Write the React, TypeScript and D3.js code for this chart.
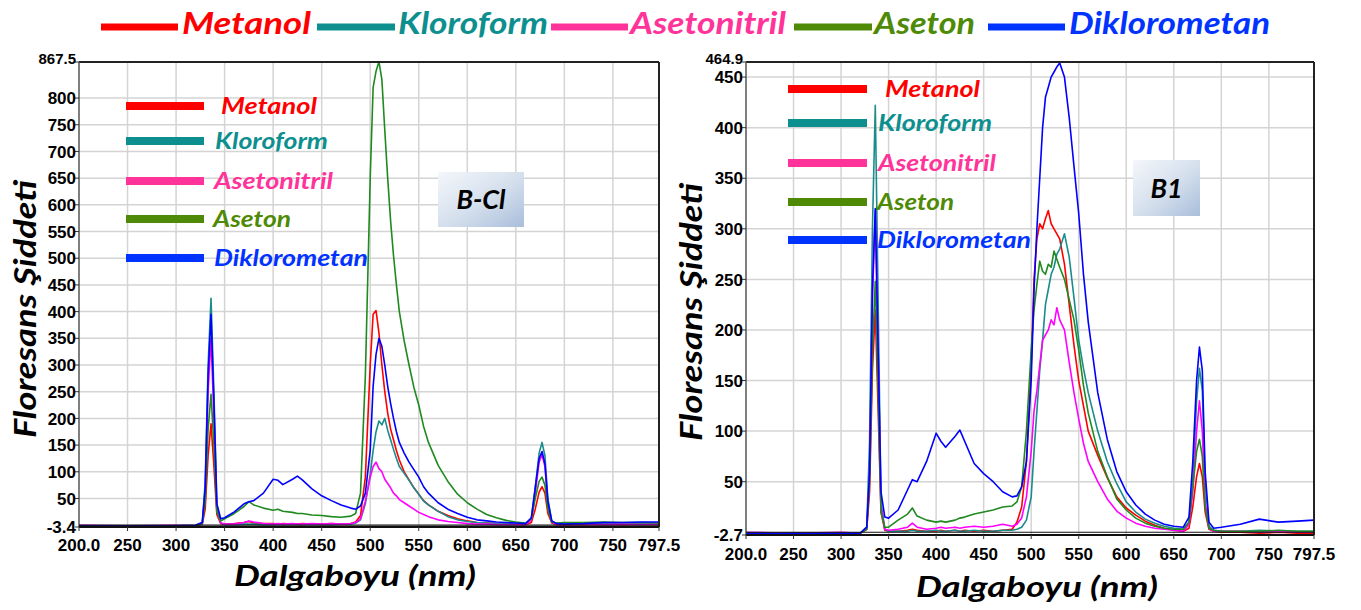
import React from 'react';
import * as d3 from 'd3';

// ---------- DATA ----------
// wavelength grid (nm), rows: A(200-320) B(327-350) C(360-480) D(485-530) E(535-660) F(666-692) G(700-797.5)
const WAVELENGTH = [
  200, 250, 300, 320,
  327, 330, 333, 336, 339, 342, 346, 350,
  360, 370, 375, 380, 390, 400, 405, 410, 420, 425, 430, 440, 450, 460, 470, 480,
  485, 490, 495, 500, 503, 506, 509, 512, 515, 518, 521, 524, 527, 530,
  535, 540, 545, 550, 555, 560, 570, 580, 590, 600, 610, 620, 630, 640, 650, 660,
  666, 670, 674, 677, 680, 683, 687, 692,
  700, 720, 740, 760, 780, 797.5,
];

// B-Cl panel
const BCL_METANOL = [
  -1, -1, -1, -1,
  2, 30, 130, 190, 110, 20, 3, 2,
  3, 5, 7, 4, 3, 3, 2, 3, 2, 2, 3, 2, 2, 3, 2, 3,
  6, 18, 90, 300, 395, 402, 360, 300, 250, 210, 180, 160, 140, 122,
  100, 85, 70, 58, 46, 38, 26, 18, 12, 8, 5, 4, 3, 2, 2, 1,
  5, 30, 62, 72, 60, 22, 4, 1,
  1, 1, 2, 1, 2, 1,
];
const BCL_KLOROFORM = [
  -1, -1, -1, 0,
  5, 80, 300, 425, 250, 40, 4, 1,
  1, 2, 2, 2, 1, 1, 2, 1, 2, 1, 1, 2, 1, 1, 2, 2,
  4, 10, 40, 95, 140, 175, 195, 188, 200, 178, 160, 142, 125, 110,
  97, 84, 70, 58, 45, 38, 26, 16, 10, 7, 5, 4, 3, 3, 2, 2,
  12, 70, 135, 155, 130, 50, 8, 2,
  2, 2, 3, 2, 3, 2,
];
const BCL_ASETONITRIL = [
  0, -1, 0, -1,
  3, 60, 250, 350, 200, 30, 4, 2,
  2, 5, 8, 6, 3, 2, 3, 2, 3, 2, 2, 3, 2, 3, 2, 3,
  5, 12, 45, 90, 110, 118, 106, 100, 86, 78, 70, 60, 55, 48,
  42, 36, 30, 24, 20, 16, 10, 7, 5, 3, 2, 2, 1, 1, 1, 1,
  10, 60, 118, 132, 110, 40, 6, 1,
  1, 2, 1, 2, 1, 2,
];
const BCL_ASETON = [
  -1, -1, -1, -1,
  3, 45, 180, 245, 150, 25, 8, 12,
  22, 35, 44, 38, 32, 28, 30, 26, 24, 22, 22, 19, 18, 16, 15, 17,
  22, 60, 280, 650, 820, 850, 868, 835, 740, 650, 570, 505, 450, 400,
  345, 300, 258, 225, 185, 155, 112, 82, 58, 42, 30, 20, 14, 9, 6, 4,
  12, 50, 82, 90, 75, 30, 6, 4,
  5, 5, 6, 5, 5, 4,
];
const BCL_DIKLOROMETAN = [
  -1, -1, -1, 0,
  5, 70, 280, 395, 230, 40, 12, 14,
  25, 40, 44, 46, 60, 86, 84, 76, 86, 92, 85, 68, 55, 46, 38, 32,
  30, 36, 60, 140, 260, 320, 350, 335, 300, 260, 228, 200, 175, 155,
  135, 118, 104, 90, 72, 60, 42, 30, 22, 15, 10, 8, 6, 5, 4, 3,
  14, 70, 125, 138, 115, 45, 8, 3,
  2, 3, 5, 5, 6, 6,
];

// B1 panel
const B1_METANOL = [
  -1, -2, -1, -1,
  3, 40, 160, 220, 120, 20, 2, 1,
  1, 2, 3, 2, 1, 1, 2, 1, 2, 1, 2, 1, 2, 1, 2, 3,
  10, 25, 70, 165, 250, 290, 305, 300, 310, 318, 305, 300, 295, 290,
  265, 225, 185, 150, 125, 100, 76, 54, 35, 24, 17, 11, 7, 4, 2, 1,
  4, 25, 55, 68, 55, 20, 3, 1,
  0, 0, -1, 0, -1, -1,
];
const B1_KLOROFORM = [
  -1, -1, -1, -1,
  5, 90, 300, 422, 230, 30, 3, 1,
  1, 1, 2, 1, 1, 2, 1, 1, 2, 1, 1, 2, 1, 1, 2, 2,
  3, 5, 12, 35, 80, 120, 160, 190, 225, 240, 255, 262, 275, 280,
  295, 272, 232, 190, 162, 138, 100, 70, 48, 30, 20, 13, 9, 6, 4, 3,
  10, 50, 130, 162, 140, 50, 6, 2,
  1, 1, 2, 1, 1, 1,
];
const B1_ASETONITRIL = [
  0, -1, 0, -1,
  3, 60, 230, 318, 180, 25, 3, 2,
  3, 5, 9, 5, 3, 4, 5, 4, 5, 4, 5, 6, 5, 6, 8, 6,
  8, 14, 35, 80, 120, 140, 165, 190, 195, 200, 210, 205, 222, 210,
  200, 168, 138, 112, 88, 70, 50, 33, 21, 14, 9, 6, 4, 3, 2, 1,
  8, 40, 100, 130, 100, 30, 4, 1,
  1, 1, 0, 1, 0, 0,
];
const B1_ASETON = [
  -1, -1, -1, -1,
  3, 50, 180, 248, 140, 20, 5, 5,
  12, 18, 24, 16, 12, 10, 11, 10, 12, 14, 15, 18, 20, 22, 25, 26,
  30, 45, 100, 180, 220, 245, 268, 258, 255, 265, 262, 278, 270, 262,
  250, 230, 210, 180, 145, 118, 80, 55, 33, 22, 14, 9, 6, 4, 3, 3,
  10, 45, 80, 92, 75, 25, 4, 2,
  1, 1, 1, 2, 1, 1,
];
const B1_DIKLOROMETAN = [
  -1, -1, -1, -1,
  5, 60, 240, 320, 180, 40, 15, 14,
  22, 42, 52, 50, 70, 98, 90, 84, 95, 101, 90, 68, 58, 50, 40, 35,
  36, 45, 70, 150, 240, 300, 350, 400, 430, 440, 450, 455, 460, 464,
  450, 410, 362, 315, 255, 208, 138, 92, 60, 40, 27, 18, 12, 8, 6, 5,
  15, 70, 150, 183, 160, 60, 10, 4,
  5, 8, 13, 10, 11, 12,
];

const SERIES_NAMES = ['Metanol', 'Kloroform', 'Asetonitril', 'Aseton', 'Diklorometan'];
const LINE_COLORS = ['#ff0000', '#1a8c8c', '#ff00ff', '#1f8a1f', '#0000ff'];
const LEGEND_COLORS = ['#ff0000', '#0e8f8f', '#ff3399', '#4e8a06', '#0033ff'];

const X_TICKS = [200, 250, 300, 350, 400, 450, 500, 550, 600, 650, 700, 750, 797.5];
const X_TICK_LABELS = ['200.0', '250', '300', '350', '400', '450', '500', '550', '600', '650', '700', '750', '797.5'];
const BCL_Y_TICKS = [-3.4, 50, 100, 150, 200, 250, 300, 350, 400, 450, 500, 550, 600, 650, 700, 750, 800, 867.5];
const BCL_Y_LABELS = ['-3.4', '50', '100', '150', '200', '250', '300', '350', '400', '450', '500', '550', '600', '650', '700', '750', '800', '867.5'];
const B1_Y_TICKS = [-2.7, 50, 100, 150, 200, 250, 300, 350, 400, 450, 464.9];
const B1_Y_LABELS = ['-2.7', '50', '100', '150', '200', '250', '300', '350', '400', '450', '464.9'];

const Y_TITLE = 'Floresans Şiddeti';
const X_TITLE = 'Dalgaboyu (nm)';

// ---------- STYLE / LAYOUT ----------
const FONT_TITLE = "Lato, 'Open Sans', sans-serif";
const FONT_TICK = "'Liberation Sans Narrow', 'Liberation Sans', Arial, sans-serif";

const TOP_LEGEND = [
  { sx0: 101, sx1: 178, tx: 182, tw: 129 },
  { sx0: 317, sx1: 395, tx: 398, tw: 150 },
  { sx0: 551, sx1: 628, tx: 630, tw: 156 },
  { sx0: 794, sx1: 872, tx: 874, tw: 101 },
  { sx0: 988, sx1: 1065, tx: 1069, tw: 201 },
];

const PANELS = [
  {
    key: 'bcl', x0: 79, x1: 659, y0: 62, y1: 527,
    yTicks: BCL_Y_TICKS, yLabels: BCL_Y_LABELS,
    series: [BCL_METANOL, BCL_KLOROFORM, BCL_ASETONITRIL, BCL_ASETON, BCL_DIKLOROMETAN],
    xLabelY: 551, legendSx: [126, 204], legendTx: [221, 215, 214, 213, 214],
    legendY: [106, 141, 181, 219, 258], legendW: [96, 113, 119, 78, 154],
    box: { x: 438, y: 172, w: 86, h: 55, label: 'B-Cl' },
    yTitle: { x: 36, y: 309 }, xTitle: { x: 355, y: 586 },
  },
  {
    key: 'b1', x0: 746, x1: 1314, y0: 62, y1: 535,
    yTicks: B1_Y_TICKS, yLabels: B1_Y_LABELS,
    series: [B1_METANOL, B1_KLOROFORM, B1_ASETONITRIL, B1_ASETON, B1_DIKLOROMETAN],
    xLabelY: 560, legendSx: [788, 867], legendTx: [885, 878, 878, 877, 877],
    legendY: [89, 123, 163, 202, 240], legendW: [95, 114, 118, 77, 154],
    box: { x: 1133, y: 160, w: 67, h: 56, label: 'B1' },
    yTitle: { x: 702, y: 312 }, xTitle: { x: 1037, y: 597 },
  },
];

function Panel({ p }: { p: any }) {
  const x = d3.scaleLinear().domain([200, 797.5]).range([p.x0, p.x1]);
  const yMin = p.yTicks[0];
  const yMax = p.yTicks[p.yTicks.length - 1];
  const y = d3.scaleLinear().domain([yMin, yMax]).range([p.y1, p.y0]);
  const line = d3.line<number>()
    .x((_, i) => x(WAVELENGTH[i]))
    .y((d) => y(d));
  const clipId = 'clip-' + p.key;
  const gradId = 'grad-' + p.key;
  const nY = p.yTicks.length;
  return (
    <g>
      <defs>
        <clipPath id={clipId}>
          <rect x={p.x0} y={p.y0 - 2} width={p.x1 - p.x0} height={p.y1 - p.y0 + 4} />
        </clipPath>
        <linearGradient id={gradId} x1="0" y1="0" x2="1" y2="1">
          <stop offset="0%" stopColor="#f4f7fb" />
          <stop offset="55%" stopColor="#d3deec" />
          <stop offset="100%" stopColor="#a9bedb" />
        </linearGradient>
      </defs>
      {/* grid */}
      {X_TICKS.slice(1, -1).map((t) => (
        <line key={'gx' + t} x1={x(t)} x2={x(t)} y1={p.y0} y2={p.y1} stroke="#d4d4d4" strokeWidth={1.5} />
      ))}
      {p.yTicks.slice(1, -1).map((t: number) => (
        <line key={'gy' + t} x1={p.x0} x2={p.x1} y1={y(t)} y2={y(t)} stroke="#d4d4d4" strokeWidth={1.5} />
      ))}
      {/* series */}
      <g clipPath={`url(#${clipId})`}>
        {p.series.map((vals: number[], i: number) => (
          <path key={SERIES_NAMES[i]} d={line(vals) || ''} fill="none" stroke={LINE_COLORS[i]}
            strokeWidth={1.6} strokeLinejoin="round" />
        ))}
      </g>
      {/* frame */}
      <line x1={p.x0} x2={p.x1} y1={p.y0} y2={p.y0} stroke="#222" strokeWidth={1.8} />
      <line x1={p.x1} x2={p.x1} y1={p.y0} y2={p.y1} stroke="#222" strokeWidth={2} />
      <line x1={p.x0} x2={p.x0} y1={p.y0} y2={p.y1} stroke="#555" strokeWidth={1.5} />
      <line x1={p.x0} x2={p.x1} y1={p.y1} y2={p.y1} stroke="#111" strokeWidth={2} />
      <line x1={p.x0} x2={p.x1} y1={y(0)} y2={y(0)} stroke="#111" strokeWidth={1.2} />
      {/* ticks */}
      {X_TICKS.map((t, i) => (
        <g key={'xt' + t}>
          <line x1={x(t)} x2={x(t)} y1={p.y1} y2={p.y1 + 4} stroke="#333" strokeWidth={1} />
          <text x={x(t)} y={p.xLabelY} textAnchor="middle"
            fontFamily={FONT_TICK} fontWeight={700} fontSize={17} fill="#000">{X_TICK_LABELS[i]}</text>
        </g>
      ))}
      {p.yTicks.map((t: number, i: number) => (
        <g key={'yt' + t}>
          <line x1={p.x0 - 4} x2={p.x0} y1={y(t)} y2={y(t)} stroke="#333" strokeWidth={1} />
          <text x={p.x0 - 3} y={y(t) - (i === nY - 1 ? 3 : 0)} dy="0.36em"
            textAnchor="end" fontFamily={FONT_TICK} fontWeight={700}
            fontSize={i === nY - 1 ? 15 : 17} fill="#000">{p.yLabels[i]}</text>
        </g>
      ))}
      {/* inner legend */}
      {SERIES_NAMES.map((name, i) => (
        <g key={'lg' + name}>
          <line x1={p.legendSx[0]} x2={p.legendSx[1]} y1={p.legendY[i]} y2={p.legendY[i]}
            stroke={LEGEND_COLORS[i]} strokeWidth={8} />
          <text x={p.legendTx[i]} y={p.legendY[i] + 8} fontFamily={FONT_TITLE} fontStyle="italic"
            fontWeight={700} fontSize={23} fill={LEGEND_COLORS[i]}
            textLength={p.legendW[i]} lengthAdjust="spacingAndGlyphs">{name}</text>
        </g>
      ))}
      {/* label box */}
      <rect x={p.box.x} y={p.box.y} width={p.box.w} height={p.box.h} fill={`url(#${gradId})`} />
      <text x={p.box.x + p.box.w / 2} y={p.box.y + p.box.h / 2} dy="0.36em" textAnchor="middle"
        fontFamily={FONT_TITLE} fontStyle="italic" fontWeight={700} fontSize={27} fill="#000">{p.box.label}</text>
      {/* axis titles */}
      <text transform={`translate(${p.yTitle.x},${p.yTitle.y}) rotate(-90)`} textAnchor="middle"
        fontFamily={FONT_TITLE} fontStyle="italic" fontWeight={700} fontSize={31} fill="#000"
        textLength={258} lengthAdjust="spacingAndGlyphs">{Y_TITLE}</text>
      <text x={p.xTitle.x} y={p.xTitle.y} textAnchor="middle"
        fontFamily={FONT_TITLE} fontStyle="italic" fontWeight={700} fontSize={28} fill="#000"
        textLength={242} lengthAdjust="spacingAndGlyphs">{X_TITLE}</text>
    </g>
  );
}

export default function App() {
  return (
    <svg width={1361} height={610} viewBox="0 0 1361 610"
      style={{ position: 'absolute', left: 0, top: 0, background: '#fff' }}>
      <rect x={0} y={0} width={1361} height={610} fill="#fff" />
      {SERIES_NAMES.map((name, i) => (
        <g key={'top' + name}>
          <line x1={TOP_LEGEND[i].sx0} x2={TOP_LEGEND[i].sx1} y1={27} y2={27}
            stroke={LEGEND_COLORS[i]} strokeWidth={7} />
          <text x={TOP_LEGEND[i].tx} y={34} fontFamily={FONT_TITLE} fontStyle="italic" fontWeight={700}
            fontSize={31} fill={LEGEND_COLORS[i]} textLength={TOP_LEGEND[i].tw}
            lengthAdjust="spacingAndGlyphs">{name}</text>
        </g>
      ))}
      {PANELS.map((p) => <Panel key={p.key} p={p} />)}
    </svg>
  );
}
